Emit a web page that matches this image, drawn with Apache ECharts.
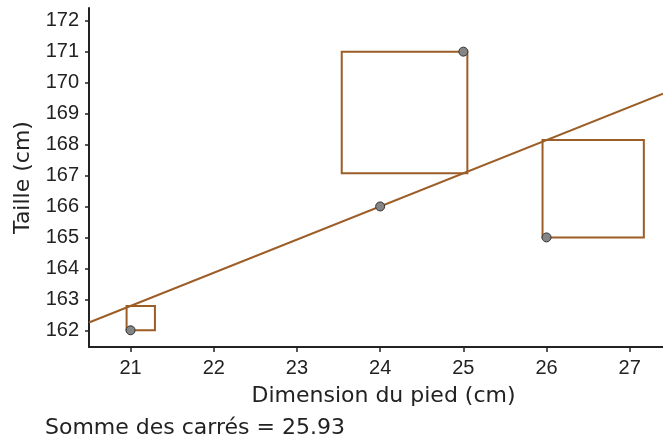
<!DOCTYPE html>
<html>
<head>
<meta charset="utf-8">
<title>Taille en fonction de la dimension du pied</title>
<script src="https://cdn.jsdelivr.net/npm/echarts@6/dist/echarts.min.js"></script>
<style>
  html, body { margin: 0; padding: 0; background: #fff; }
  #chart { width: 663px; height: 442px; }
</style>
</head>
<body>
<div id="chart"></div>
<script>
// Observations: foot length (cm) and height (cm)
const footSize = [21, 24, 25, 26];
const height = [162, 166, 171, 165];

// Tick values for both axes
const xTicks = [21, 22, 23, 24, 25, 26, 27];
const yTicks = [162, 163, 164, 165, 166, 167, 168, 169, 170, 171, 172];

const X_MIN = 20.5, X_MAX = 27.4;
const Y_MIN = 161.46, Y_MAX = 172.41;

// Least-squares fit of height on foot length
const n = footSize.length;
const mx = footSize.reduce((a, b) => a + b, 0) / n;
const my = height.reduce((a, b) => a + b, 0) / n;
let sxy = 0, sxx = 0;
for (let i = 0; i < n; i++) {
  sxy += (footSize[i] - mx) * (height[i] - my);
  sxx += (footSize[i] - mx) * (footSize[i] - mx);
}
const slope = sxy / sxx;
const intercept = my - slope * mx;
const fit = x => intercept + slope * x;

const points = footSize.map((x, i) => [x, height[i]]);
const residualData = footSize.map((x, i) => [x, height[i], fit(x)]);
const sumSquares = footSize.reduce((s, x, i) => s + Math.pow(height[i] - fit(x), 2), 0);

const BROWN = '#9c5d26';
const INK = '#222';
const FONT = '"Liberation Sans", Arial, sans-serif';
const TITLE_FONT = '"DejaVu Sans", Verdana, sans-serif';

const chart = echarts.init(document.getElementById('chart'), null, { renderer: 'canvas' });

chart.setOption({
  animation: false,
  backgroundColor: '#fff',
  grid: { left: 89, right: 0, top: 8, bottom: 95, containLabel: false },
  xAxis: {
    type: 'value',
    min: X_MIN,
    max: X_MAX,
    name: 'Dimension du pied (cm)',
    nameLocation: 'middle',
    nameGap: 38,
    nameTextStyle: { color: INK, fontSize: 22, fontFamily: TITLE_FONT, padding: [0, 0, 0, 15] },
    axisLine: { show: true, lineStyle: { color: INK, width: 2 } },
    axisTick: { show: true, length: 5, lineStyle: { color: INK, width: 1.5 }, customValues: xTicks },
    axisLabel: { color: INK, fontSize: 20, fontFamily: FONT, margin: 11, customValues: xTicks },
    splitLine: { show: false }
  },
  yAxis: {
    type: 'value',
    min: Y_MIN,
    max: Y_MAX,
    name: 'Taille (cm)',
    nameLocation: 'middle',
    nameGap: 54,
    nameTextStyle: { color: INK, fontSize: 22, fontFamily: TITLE_FONT },
    axisLine: { show: true, lineStyle: { color: INK, width: 2 } },
    axisTick: { show: true, length: 4, lineStyle: { color: INK, width: 1.5 }, customValues: yTicks },
    axisLabel: { color: INK, fontSize: 20, fontFamily: FONT, margin: 10, customValues: yTicks },
    splitLine: { show: false }
  },
  series: [
    {
      // squared residuals drawn as squares between each point and the fitted line
      type: 'custom',
      z: 2,
      data: residualData,
      renderItem: function (params, api) {
        const x = api.value(0), y = api.value(1), yh = api.value(2);
        const p = api.coord([x, y]);
        const q = api.coord([x, yh]);
        const h = Math.abs(q[1] - p[1]);
        if (h < 1) return null;
        const dir = y > yh ? -1 : 1;
        const x0 = p[0] - 4 * dir;
        const x1 = p[0] + h * dir;
        return {
          type: 'rect',
          shape: {
            x: Math.min(x0, x1),
            y: Math.min(p[1], q[1]),
            width: Math.abs(x1 - x0),
            height: h
          },
          style: { fill: 'none', stroke: BROWN, lineWidth: 2 }
        };
      }
    },
    {
      type: 'line',
      z: 3,
      data: [[X_MIN, fit(X_MIN)], [X_MAX, fit(X_MAX)]],
      symbol: 'none',
      lineStyle: { color: BROWN, width: 2 },
      silent: true
    },
    {
      type: 'scatter',
      z: 4,
      data: points,
      symbol: 'circle',
      symbolSize: 9,
      itemStyle: { color: '#858585', borderColor: '#333', borderWidth: 1, opacity: 1 }
    }
  ],
  graphic: [
    {
      type: 'text',
      left: 45,
      top: 417,
      style: {
        text: 'Somme des carrés = ' + sumSquares.toFixed(2),
        fill: INK,
        fontSize: 22,
        fontFamily: TITLE_FONT
      }
    }
  ]
});
</script>
</body>
</html>
